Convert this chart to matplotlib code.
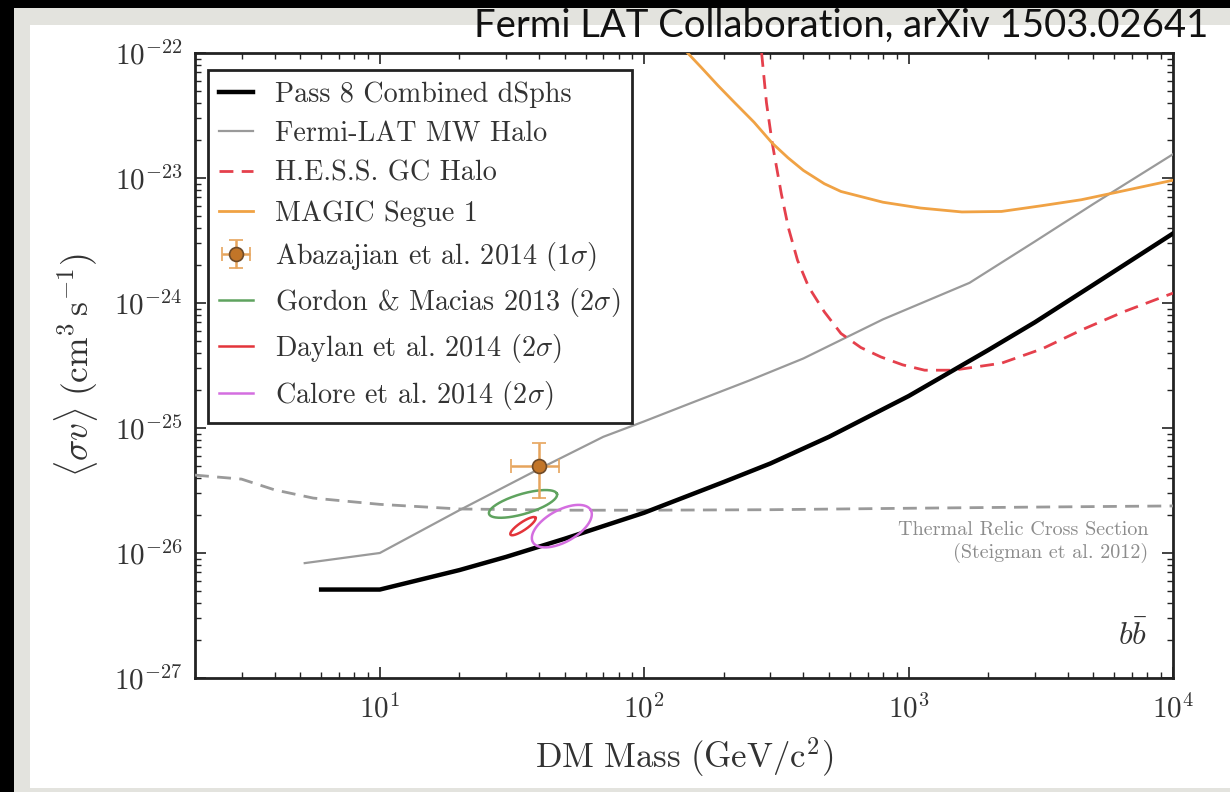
import numpy as np
import matplotlib
matplotlib.use("Agg")
import matplotlib.pyplot as plt
from matplotlib.patches import Rectangle
from matplotlib.ticker import FuncFormatter, LogLocator, NullFormatter

plt.rcParams['mathtext.fontset'] = 'cm'
plt.rcParams['axes.unicode_minus'] = False

# ---------------- data ----------------
pass8_mass = [6, 10, 20, 30, 50, 100, 200, 300, 500, 1000, 2000, 3000, 5000, 10000]
pass8_sv = [5.1e-27, 5.1e-27, 7.3e-27, 9.3e-27, 1.3e-26, 2.1e-26, 3.7e-26, 5.2e-26,
            8.5e-26, 1.8e-25, 4.2e-25, 7.0e-25, 1.4e-24, 3.6e-24]

mw_mass = [5.2, 10, 20, 40, 70, 100, 150, 250, 400, 800, 1700, 3000, 5000, 10000]
mw_sv = [8.3e-27, 1.0e-26, 2.2e-26, 4.7e-26, 8.5e-26, 1.13e-25, 1.58e-25, 2.4e-25,
         3.6e-25, 7.4e-25, 1.45e-24, 3.1e-24, 6.2e-24, 1.55e-23]

hess_mass = [278, 290, 305, 330, 351, 380, 419, 480, 555, 660, 786, 950, 1150, 1476,
             2245, 3200, 4520, 6500, 10000]
hess_sv = [1.0e-22, 4.0e-23, 1.9e-23, 7.5e-24, 4.0e-24, 2.2e-24, 1.34e-24, 8.5e-25, 5.7e-25,
           4.4e-25, 3.7e-25, 3.2e-25, 2.9e-25, 2.9e-25, 3.3e-25, 4.3e-25, 6.1e-25,
           8.5e-25, 1.2e-24]

magic_mass = [146, 165, 190, 220, 260, 305, 350, 400, 480, 555, 800, 1110, 1590, 2245,
              3185, 4500, 5970, 10000]
magic_sv = [1.0e-22, 7.6e-23, 5.5e-23, 4.0e-23, 2.8e-23, 1.9e-23, 1.45e-23, 1.15e-23,
            9.0e-24, 7.8e-24, 6.4e-24, 5.75e-24, 5.35e-24, 5.4e-24, 6.0e-24, 6.7e-24,
            7.6e-24, 9.6e-24]

thermal_mass = [2, 3, 4, 5.6, 10, 20, 50, 100, 300, 1000, 3000, 10000]
thermal_sv = [4.2e-26, 3.9e-26, 3.2e-26, 2.75e-26, 2.45e-26, 2.25e-26, 2.2e-26, 2.2e-26,
              2.22e-26, 2.28e-26, 2.33e-26, 2.38e-26]

aba_mass = [40.0]
aba_sv = [4.97e-26]
aba_mass_lo = [31.3]
aba_mass_hi = [47.5]
aba_sv_lo = [2.74e-26]
aba_sv_hi = [7.55e-26]

# confidence contours: centre and half-axis vectors in decades (log10 mass, log10 sv)
ell_names = ['Gordon & Macias 2013 ($2\\sigma$)', 'Daylan et al. 2014 ($2\\sigma$)',
             'Calore et al. 2014 ($2\\sigma$)']
ell_center_mass = [34.8, 34.8, 48.8]
ell_center_sv = [2.47e-26, 1.64e-26, 1.64e-26]
ell_major = [(0.1285, 0.080), (0.0473, 0.068), (0.1096, 0.128)]
ell_minor = [(-0.0107, 0.0768), (-0.0085, 0.0265), (-0.029, 0.112)]

legend_labels = ['Pass 8 Combined dSphs', 'Fermi-LAT MW Halo', 'H.E.S.S. GC Halo',
                 'MAGIC Segue 1', 'Abazajian et al. 2014 (1$\\sigma$)'] + ell_names

x_ticks = [10, 100, 1000, 10000]
y_ticks = [1e-27, 1e-26, 1e-25, 1e-24, 1e-23, 1e-22]

# ---------------- figure ----------------
W, H = 1230, 792
fig = plt.figure(figsize=(W / 100, H / 100), dpi=100, facecolor='black')
fig.patches.append(Rectangle((14 / W, 0), 1 - 14 / W, 1 - 8 / H, transform=fig.transFigure,
                             facecolor='#e3e3de', edgecolor='none', zorder=-10))
fig.patches.append(Rectangle((30 / W, 4 / H), 1 - 30 / W, (788 - 25) / H,
                             transform=fig.transFigure, facecolor='white',
                             edgecolor='none', zorder=-9))

ax = fig.add_axes([195 / W, 1 - 678 / H, (1173 - 195) / W, (678 - 53) / H])
ax.set_facecolor('white')
ax.set_xscale('log')
ax.set_yscale('log')
ax.set_xlim(2, 1e4)
ax.set_ylim(1e-27, 1e-22)

cm_font = 'cmr10'
c_orange = '#f0a244'
c_red = '#e5404c'
c_gray = '#9a9a9a'

l1, = ax.plot(pass8_mass, pass8_sv, color='black', lw=3.2, zorder=5)
l2, = ax.plot(mw_mass, mw_sv, color=c_gray, lw=1.6, zorder=4)
l3, = ax.plot(hess_mass, hess_sv, color=c_red, lw=2.0, ls=(0, (5, 3)), zorder=4)
l4, = ax.plot(magic_mass, magic_sv, color=c_orange, lw=2.0, zorder=4)
ax.plot(thermal_mass, thermal_sv, color=c_gray, lw=2.0, ls=(0, (5, 3)), zorder=3)

eb = ax.errorbar(aba_mass, aba_sv,
                 xerr=[[aba_mass[0] - aba_mass_lo[0]], [aba_mass_hi[0] - aba_mass[0]]],
                 yerr=[[aba_sv[0] - aba_sv_lo[0]], [aba_sv_hi[0] - aba_sv[0]]],
                 fmt='o', color='#e6a45c', mfc='#c27528', mec='#6e4a28', mew=1.2,
                 ms=10, elinewidth=1.8, capsize=5, capthick=1.8, zorder=6)

ell_colors = ['#5fa35f', '#e3343a', '#d46ee0']
ell_handles = []
phi = np.linspace(0, 2 * np.pi, 200)
for cm_, cs_, M, N, col in zip(ell_center_mass, ell_center_sv, ell_major, ell_minor, ell_colors):
    lx = np.log10(cm_) + M[0] * np.cos(phi) + N[0] * np.sin(phi)
    ly = np.log10(cs_) + M[1] * np.cos(phi) + N[1] * np.sin(phi)
    h, = ax.plot(10 ** lx, 10 ** ly, color=col, lw=1.8, zorder=5)
    ell_handles.append(h)

# axes styling
for s in ax.spines.values():
    s.set_linewidth(2.0)
    s.set_color('#222222')
ax.xaxis.set_minor_locator(LogLocator(base=10, subs=np.arange(2, 10), numticks=20))
ax.yaxis.set_minor_locator(LogLocator(base=10, subs=np.arange(2, 10), numticks=20))
ax.set_xticks(x_ticks)
ax.set_yticks(y_ticks)
fmt = FuncFormatter(lambda v, p: r'$10^{%d}$' % int(round(np.log10(v))))
ax.xaxis.set_major_formatter(fmt)
ax.yaxis.set_major_formatter(fmt)
ax.xaxis.set_minor_formatter(NullFormatter())
ax.yaxis.set_minor_formatter(NullFormatter())
ax.tick_params(which='both', direction='in', top=True, right=True, colors='#222222')
ax.tick_params(which='major', length=8, width=1.2, labelsize=21)
ax.tick_params(axis='x', which='major', pad=12)
ax.tick_params(axis='y', which='major', pad=9)
ax.tick_params(which='minor', length=4, width=1.0)
for t in ax.get_xticklabels() + ax.get_yticklabels():
    t.set_color('#333333')

ax.set_xlabel(r'$\mathrm{DM\ Mass\ (GeV/c^2)}$', fontsize=25, color='#333333', labelpad=8)
ax.set_ylabel(r'$\langle\sigma v\rangle\ \mathrm{(cm^3\,s^{-1})}$', fontsize=25.5,
              color='#333333', labelpad=10)

ax.text(0.9745, 0.2176, 'Thermal Relic Cross Section\n(Steigman et al. 2012)',
        transform=ax.transAxes, ha='right', va='center', fontsize=14.5,
        color='#8c8c8c', family=cm_font, linespacing=1.2)
ax.text(0.9745, 0.066, r'$b\bar{b}$', transform=ax.transAxes, ha='right', va='center',
        fontsize=23, color='#333333')

handles = [l1, l2, l3, l4, eb] + ell_handles
leg = ax.legend(handles, legend_labels, loc='upper left', bbox_to_anchor=(0.013, 0.973),
                prop={'family': cm_font, 'size': 20.3}, frameon=True, fancybox=False,
                edgecolor='#222222', framealpha=1, handlelength=1.2, handletextpad=0.8,
                labelspacing=0.47, borderpad=0.4, borderaxespad=0)
leg.get_frame().set_linewidth(2.0)
for t in leg.get_texts():
    t.set_color('#333333')

fig.text(1208 / W, 1 - 26 / H, 'Fermi LAT Collaboration, arXiv 1503.02641',
         ha='right', va='center', fontsize=27.5, family='Lato', color='#111111')

fig.savefig('out.png', dpi=100, facecolor=fig.get_facecolor())
